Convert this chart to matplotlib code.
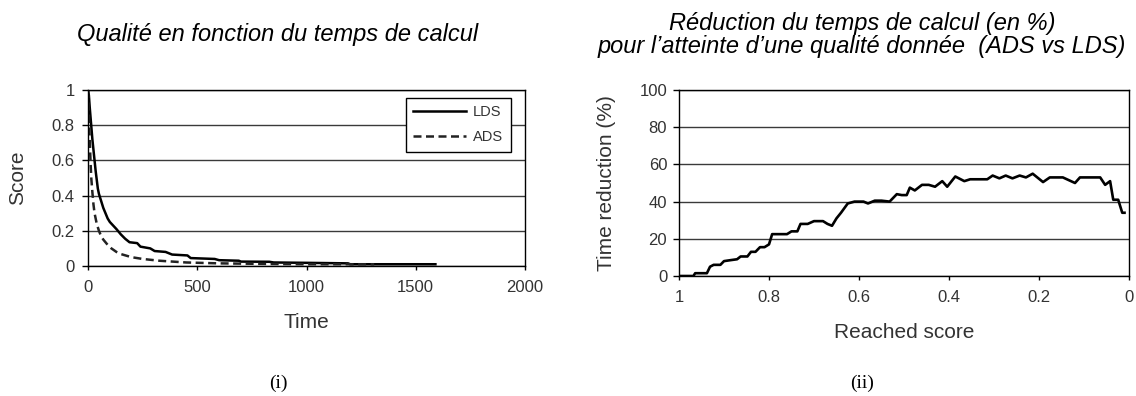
import matplotlib
matplotlib.use("Agg")
import matplotlib.pyplot as plt
from matplotlib.ticker import FixedLocator

plt.rcParams['font.family'] = ['Liberation Sans', 'DejaVu Sans']

# ---- Data: panel (i) ----
lds_time = [0, 4, 8, 12, 16, 20, 25, 30, 35, 40, 45, 50, 60, 70, 80, 90, 100, 115,
            130, 150, 170, 190, 225, 240, 285, 305, 355, 385, 455, 470, 580, 600,
            690, 700, 830, 850, 1000, 1190, 1200, 1590]
lds_score = [1.0, 0.97, 0.9, 0.84, 0.78, 0.72, 0.66, 0.6, 0.54, 0.49, 0.44, 0.41,
             0.37, 0.33, 0.3, 0.27, 0.25, 0.23, 0.21, 0.18, 0.155, 0.135, 0.13,
             0.11, 0.1, 0.085, 0.08, 0.065, 0.06, 0.045, 0.04, 0.033, 0.03, 0.025,
             0.024, 0.02, 0.018, 0.015, 0.01, 0.01]
ads_time = [0, 3, 6, 9, 12, 15, 20, 25, 30, 40, 50, 60, 70, 90, 107, 130, 150, 180,
            200, 250, 326, 400, 450, 600, 800, 1000, 1310]
ads_score = [1.0, 0.9, 0.78, 0.68, 0.58, 0.5, 0.42, 0.35, 0.3, 0.24, 0.2, 0.17,
             0.15, 0.12, 0.1, 0.08, 0.068, 0.057, 0.05, 0.04, 0.03, 0.024, 0.02,
             0.015, 0.012, 0.01, 0.01]

# ---- Data: panel (ii) ----
reached = [1.0, 0.968, 0.964, 0.938, 0.931, 0.923, 0.908, 0.90, 0.886, 0.871, 0.863,
           0.848, 0.84, 0.83, 0.82, 0.81, 0.80, 0.793, 0.785, 0.774, 0.76, 0.75,
           0.737, 0.73, 0.714, 0.70, 0.68, 0.67, 0.66, 0.65, 0.64, 0.625, 0.61,
           0.59, 0.58, 0.565, 0.55, 0.532, 0.516, 0.505, 0.494, 0.487, 0.476, 0.46,
           0.445, 0.431, 0.415, 0.404, 0.386, 0.366, 0.353, 0.315, 0.303, 0.288,
           0.274, 0.259, 0.243, 0.229, 0.214, 0.191, 0.176, 0.147, 0.12, 0.109,
           0.064, 0.053, 0.042, 0.035, 0.024, 0.015, 0.01]
reduction = [0, 0, 1.5, 1.5, 5, 6, 6, 8, 8.5, 9, 10.5, 10.5, 13, 13, 15.5, 15.5, 17,
             22.5, 22.5, 22.5, 22.5, 24, 24, 28, 28, 29.5, 29.5, 28, 27, 31, 34, 39,
             40, 40, 39, 40.5, 40.5, 40, 44, 43.5, 43.5, 47.5, 46, 49, 49, 48, 51,
             48, 53.5, 51, 52, 52, 54, 52.5, 54, 52.5, 54, 53, 55, 50.5, 53, 53, 50,
             53, 53, 49, 51, 41, 41, 34, 34]

time_ticks = [0, 500, 1000, 1500, 2000]
score_ticks = [0, 0.2, 0.4, 0.6, 0.8, 1]
score_tick_labels = ['0', '0.2', '0.4', '0.6', '0.8', '1']
red_ticks = [0, 20, 40, 60, 80, 100]

W, H = 1136, 396
fig = plt.figure(figsize=(W / 100, H / 100), dpi=100)
TXT = '#333333'

def px_axes(x0, y0, x1, y1):
    return fig.add_axes([x0 / W, 1 - y1 / H, (x1 - x0) / W, (y1 - y0) / H])

def style(ax, ypad):
    for s in ax.spines.values():
        s.set_color('black')
        s.set_linewidth(1.0)
    ax.yaxis.grid(True, color='#3a3a3a', linewidth=1.0)
    ax.set_axisbelow(True)
    ax.tick_params(axis='y', direction='out', length=4.5, width=1.0, pad=ypad,
                   labelsize=12, labelcolor=TXT)
    ax.tick_params(axis='x', direction='out', length=3, width=1.0, pad=7,
                   labelsize=12, labelcolor=TXT)

def ftext(x, y, s, **kw):
    return fig.text(x / W, 1 - y / H, s, ha='center', va='center', **kw)

# ---- Panel (i) ----
ax1 = px_axes(88, 90, 525, 266)
style(ax1, 5)
ax1.plot(lds_time, lds_score, color='black', lw=1.8, label='LDS')
ax1.plot(ads_time, ads_score, color='#222222', lw=1.8, ls=(0, (3.2, 1.8)), label='ADS')
ax1.set_xlim(0, 2000)
ax1.set_ylim(0, 1)
ax1.xaxis.set_major_locator(FixedLocator(time_ticks))
ax1.set_xticklabels([str(t) for t in time_ticks])
ax1.yaxis.set_major_locator(FixedLocator(score_ticks))
ax1.set_yticklabels(score_tick_labels)
leg = ax1.legend(loc='upper left', bbox_to_anchor=((406 - 88) / 437, 1 - (98 - 90) / 176),
                 fontsize=10.5, frameon=True, fancybox=False, edgecolor='black',
                 handlelength=3.6, borderpad=0.5, labelspacing=0.75, handletextpad=0.5,
                 borderaxespad=0, framealpha=1)
leg.get_frame().set_linewidth(1.0)
for t in leg.get_texts():
    t.set_color(TXT)

ftext(306, 322, 'Time', fontsize=15, color=TXT)
ftext(18, 178, 'Score', fontsize=15, color=TXT, rotation=90)
ftext(278, 35, 'Qualité en fonction du temps de calcul', fontsize=17, style='italic')
ftext(278, 383, '(i)', fontsize=14, family=['Liberation Serif', 'DejaVu Serif'])

# ---- Panel (ii) ----
ax2 = px_axes(679, 90, 1129, 276)
style(ax2, 4)
ax2.plot(reached, reduction, color='black', lw=1.9)
ax2.set_xlim(1, 0)
ax2.set_ylim(0, 100)
ax2.xaxis.set_major_locator(FixedLocator(score_ticks))
ax2.set_xticklabels(score_tick_labels)
ax2.yaxis.set_major_locator(FixedLocator(red_ticks))
ax2.set_yticklabels([str(t) for t in red_ticks])

ftext(904, 333, 'Reached score', fontsize=15, color=TXT)
ftext(607, 183, 'Time reduction (%)', fontsize=15, color=TXT, rotation=90)
ftext(862, 35,
      'Réduction du temps de calcul (en %)\npour l\u2019atteinte d\u2019une qualité donnée  (ADS vs LDS)',
      fontsize=17, style='italic', linespacing=0.95)
ftext(862, 383, '(ii)', fontsize=14, family=['Liberation Serif', 'DejaVu Serif'])

fig.savefig('out.png', dpi=100)
